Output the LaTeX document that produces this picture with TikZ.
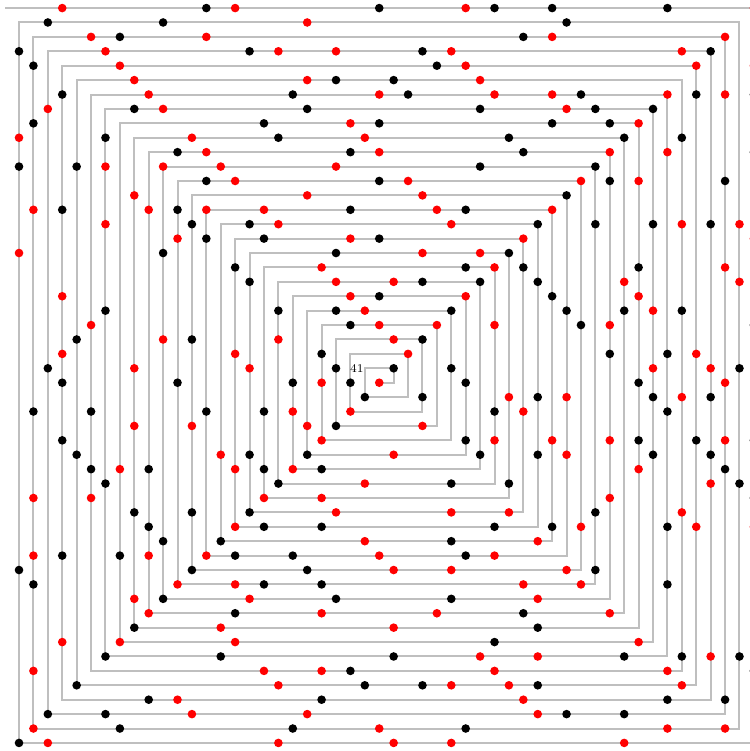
\documentclass[tikz,border=0pt]{standalone}
\usetikzlibrary{calc}

% one dot for a prime: red if p = 1 mod 4, black if p = 3 mod 4
\newcommand\primedot[3]{%
  \pgfmathtruncatemacro\isp{isprime(#1)}%
  \ifnum\isp=1
    \pgfmathtruncatemacro\rmd{mod(#1,4)}%
    \ifnum\rmd=1 \fill[pone] (#2,#3) circle (2.55pt);%
    \else \fill[pthree] (#2,#3) circle (2.55pt);\fi
  \fi}

\begin{document}
\begin{tikzpicture}[x=0.3cm, y=0.3cm,
		spiral/.style={line width=1.2pt, black!25},
		pone/.style={red},
		pthree/.style={black}]
		\useasboundingbox (-26.32,-25.56) rectangle (25.73,26.56);
		\clip (-26.32,-25.56) rectangle (25.73,26.56);
		\coordinate (Start) at (0,0);
		\coordinate (Lbl)   at (-1,1);
		\coordinate (End)   at (-26,26);
		% the spiral, ring by ring
		\draw[spiral] (Start) \foreach \k in {1,...,25} { -- (\k,1-\k) -- (\k,\k) -- (-\k,\k) -- (-\k,-\k) }
			-- (26,-25) -- (26,26) -- (End);
		\fill[pone] (Start) circle (2.55pt);
		% primes on each side of ring k
		\foreach \k in {1,...,26} {
			\pgfmathtruncatemacro\m{2*\k}
			\pgfmathtruncatemacro\base{40+(2*\k-1)*(2*\k-1)}
			\foreach \j in {1,...,\m} {
				\pgfmathtruncatemacro\nR{\base+\j}
				\pgfmathtruncatemacro\nT{\base+\m+\j}
				\primedot{\nR}{\k}{\j-\k}
				\primedot{\nT}{\k-\j}{\k}
				\ifnum\k<26
					\pgfmathtruncatemacro\nL{\base+2*\m+\j}
					\pgfmathtruncatemacro\nB{\base+3*\m+\j}
					\primedot{\nL}{-\k}{\k-\j}
					\primedot{\nB}{\j-\k}{-\k}
				\fi
			}
		}
		\node[left, inner sep=0.5pt, font=\scriptsize] (first) at (Lbl) {41};
	\end{tikzpicture}
\end{document}
